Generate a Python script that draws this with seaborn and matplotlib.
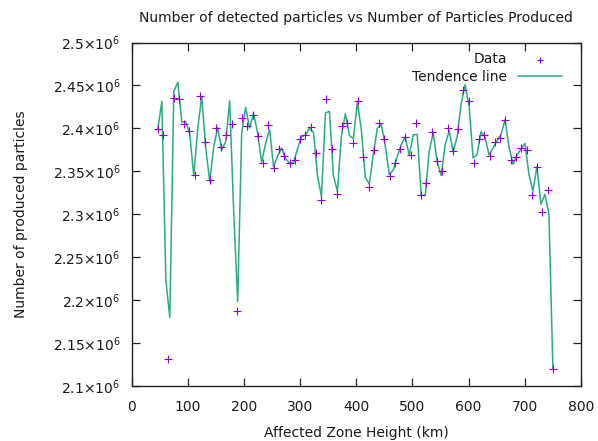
import numpy as np
import pandas as pd
import matplotlib
matplotlib.use("Agg")
import matplotlib.pyplot as plt
import seaborn as sns

# ---- data ----
height_km = [46.9, 56.3, 65.6, 75.0, 84.4, 93.8, 103.1, 112.5, 121.9, 131.3,
             140.6, 150.0, 159.4, 168.8, 178.1, 187.5, 196.9, 206.3, 215.6, 225.0,
             234.4, 243.8, 253.1, 262.5, 271.9, 281.3, 290.6, 300.0, 309.4, 318.8,
             328.1, 337.5, 346.9, 356.3, 365.6, 375.0, 384.4, 393.8, 403.1, 412.5,
             421.9, 431.3, 440.6, 450.0, 459.4, 468.8, 478.1, 487.5, 496.9, 506.3,
             515.6, 525.0, 534.4, 543.8, 553.1, 562.5, 571.9, 581.3, 590.6, 600.0,
             609.4, 618.8, 628.1, 637.5, 646.9, 656.3, 665.6, 675.0, 684.4, 693.8,
             703.1, 712.5, 721.9, 731.3, 740.6, 750.0]
particles_millions = [2.3994, 2.3924, 2.1320, 2.4355, 2.4340, 2.4052, 2.3971, 2.3459, 2.4378, 2.3847,
                      2.3401, 2.4009, 2.3781, 2.3921, 2.4049, 2.1870, 2.4119, 2.4029, 2.4160, 2.3916,
                      2.3602, 2.4041, 2.3544, 2.3762, 2.3684, 2.3595, 2.3634, 2.3874, 2.3921, 2.4014,
                      2.3719, 2.3169, 2.4340, 2.3762, 2.3230, 2.4029, 2.4067, 2.3835, 2.4320, 2.3672,
                      2.3323, 2.3747, 2.4058, 2.3881, 2.3448, 2.3595, 2.3762, 2.3895, 2.3692, 2.4058,
                      2.3227, 2.3360, 2.3959, 2.3622, 2.3500, 2.4000, 2.3735, 2.3992, 2.4451, 2.4323,
                      2.3593, 2.3872, 2.3927, 2.3680, 2.3840, 2.3892, 2.4093, 2.3628, 2.3665, 2.3771,
                      2.3747, 2.3227, 2.3552, 2.3029, 2.3285, 2.1195]
x_ticks = [0, 100, 200, 300, 400, 500, 600, 700, 800]
y_ticks = [2.10e6, 2.15e6, 2.20e6, 2.25e6, 2.30e6, 2.35e6, 2.40e6, 2.45e6, 2.50e6]
y_tick_labels = ["2.1", "2.15", "2.2", "2.25", "2.3", "2.35", "2.4", "2.45", "2.5"]

x = np.array(height_km)
y = np.array(particles_millions) * 1e6
df = pd.DataFrame({"x": x, "y": y})

# Tendence line: natural cubic spline of the data (as gnuplot "smooth csplines"),
# sampled at 100 points across the data range.
def natural_cspline(xd, yd, n_samples=100):
    n = len(xd)
    h = np.diff(xd)
    A = np.zeros((n, n))
    b = np.zeros(n)
    A[0, 0] = 1.0
    A[-1, -1] = 1.0
    for i in range(1, n - 1):
        A[i, i - 1] = h[i - 1]
        A[i, i] = 2 * (h[i - 1] + h[i])
        A[i, i + 1] = h[i]
        b[i] = 6 * ((yd[i + 1] - yd[i]) / h[i] - (yd[i] - yd[i - 1]) / h[i - 1])
    M = np.linalg.solve(A, b)
    xs = np.linspace(xd[0], xd[-1], n_samples)
    idx = np.clip(np.searchsorted(xd, xs) - 1, 0, n - 2)
    x0, x1 = xd[idx], xd[idx + 1]
    hh = x1 - x0
    t0 = x1 - xs
    t1 = xs - x0
    ys = (M[idx] * t0**3 / (6 * hh) + M[idx + 1] * t1**3 / (6 * hh)
          + (yd[idx] / hh - M[idx] * hh / 6) * t0
          + (yd[idx + 1] / hh - M[idx + 1] * hh / 6) * t1)
    return xs, ys

xs, ys = natural_cspline(x, y)
dfl = pd.DataFrame({"x": xs, "y": ys})

sns.set_theme(style="white")
plt.rcParams["font.family"] = ["DejaVu Sans"]

fig = plt.figure(figsize=(5.98, 4.41), dpi=100)
ax = fig.add_axes([131.5 / 598, 1 - 386 / 441, (581 - 131.5) / 598, (386 - 42.5) / 441])

purple = "#9400D3"
green = "#2BAA88"
txt = "#1a1a1a"

sns.scatterplot(data=df, x="x", y="y", marker="+", color=purple, s=30,
                linewidth=0.8, ax=ax, label="Data", zorder=3)
sns.lineplot(data=dfl, x="x", y="y", color=green, linewidth=1.1, ax=ax,
             sort=False, estimator=None, label="Tendence line", zorder=2)

ax.set_xlim(0, 800)
ax.set_ylim(2.1e6, 2.5e6)
ax.set_xticks(x_ticks)
ax.set_xticklabels([str(v) for v in x_ticks], fontsize=10)
ax.set_yticks(y_ticks)
ax.set_yticklabels([r"$\mathdefault{" + s + r"{\times}10^{6}}$" for s in y_tick_labels], fontsize=10)
ax.tick_params(direction="in", length=6, width=0.9, top=True, right=True,
               bottom=True, left=True, colors="#222222", labelcolor=txt)
ax.tick_params(axis="x", pad=10)
ax.tick_params(axis="y", pad=8)
for sp in ax.spines.values():
    sp.set_color("#222222")
    sp.set_linewidth(1.0)

ax.set_title("Number of detected particles vs Number of Particles Produced",
             fontsize=10, color=txt, pad=15)
ax.set_xlabel("Affected Zone Height (km)", fontsize=10, color=txt, labelpad=9)
ax.set_ylabel("Number of produced particles", fontsize=10, color=txt, labelpad=18)

leg = ax.legend(loc="upper right", bbox_to_anchor=(0.98, 1.0), frameon=False,
                markerfirst=False, fontsize=10, handlelength=3.2, handletextpad=0.8,
                labelspacing=0.25, borderaxespad=0.3, markerscale=0.85)
for t in leg.get_texts():
    t.set_color(txt)

fig.savefig("out.png", dpi=100)
